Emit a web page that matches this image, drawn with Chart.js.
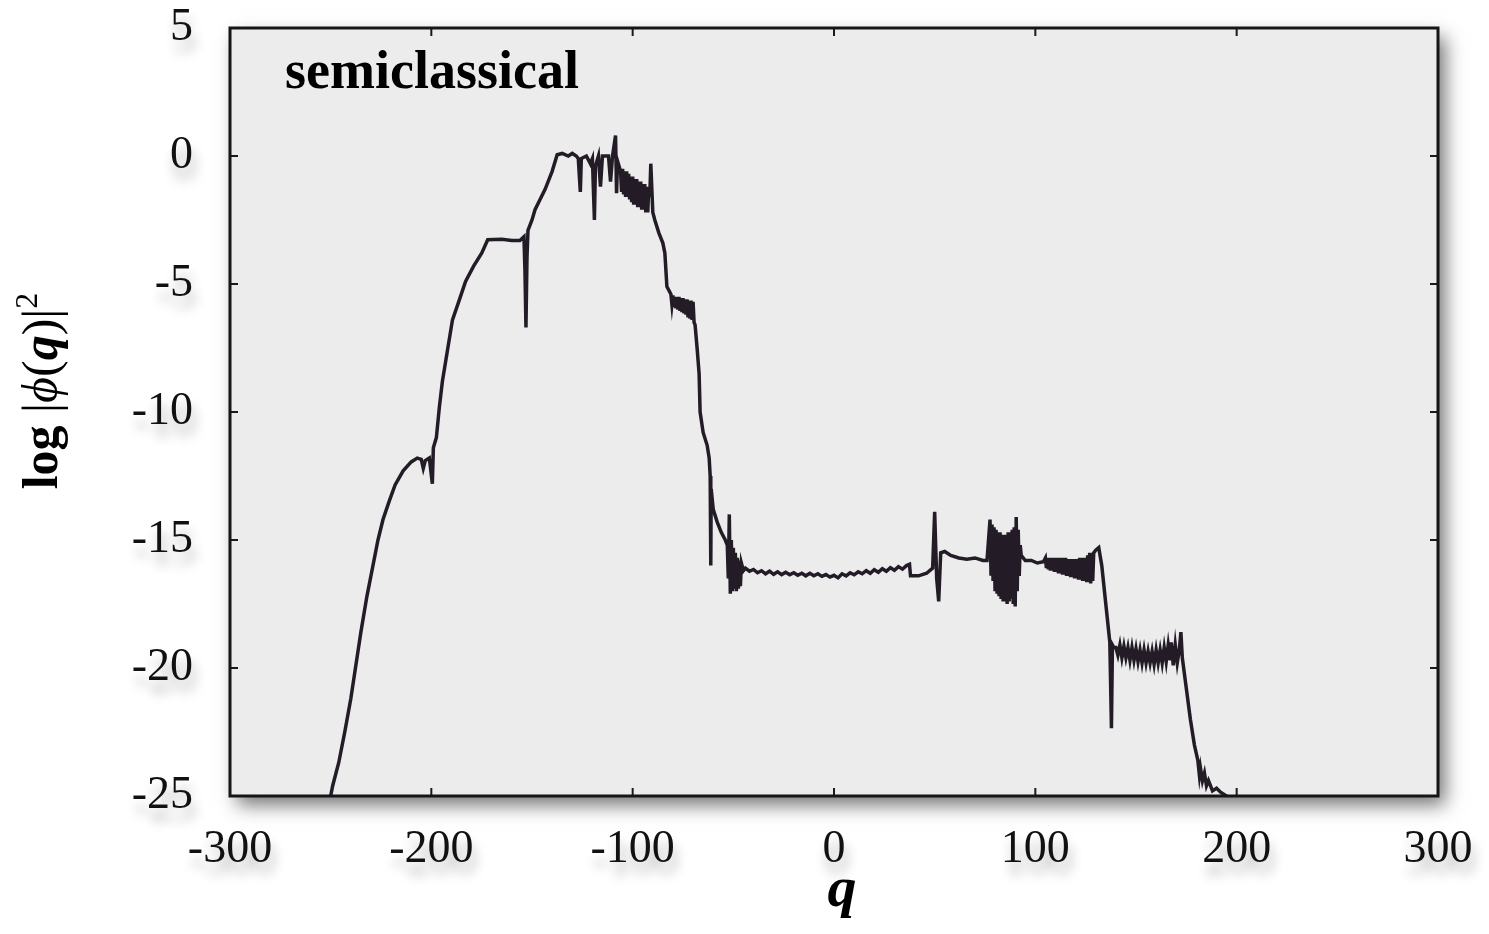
<!DOCTYPE html>
<html>
<head>
<meta charset="utf-8">
<script src="https://cdn.jsdelivr.net/npm/chart.js@4.4.0/dist/chart.umd.min.js"></script>
<style>
html, body { margin: 0; padding: 0; background: #fff; }
#wrap { width: 1489px; height: 934px; }
</style>
</head>
<body>
<div id="wrap"><canvas id="phiChart" width="1489" height="934"></canvas></div>
<script>
// q positions and log|phi(q)|^2 (same line layout in both arrays)
const qValues = [
    -250.5, -249, -246, -243, -240, -237.5, -235, -232, -229, -226.5, -224, -221, -218, -214, -210, -207, -205, -204, -203, -201,
    -199.5, -199, -197.5, -196, -194.5, -192, -189.5, -186, -183, -179, -175, -172, -165, -160, -156, -154, -153.5, -153, -152.5, -152,
    -150, -148.5, -146, -143.5, -140, -137.5, -135, -132, -130, -128, -127, -126, -125.5, -123, -121, -120, -119, -118.5, -117, -116,
    -115, -112, -111, -110, -108.5, -108, -107.5,
    -106, -105.5, -105, -104.5, -104, -103.5, -103, -102.5, -102, -101.5, -101, -100.5, -100, -99.5, -99, -98.5, -98, -97.5, -97, -96.5, -96, -95.5, -95, -94.5, -94, -93.5, -93, -92.5, -92, -91.5,
    -91, -90, -89, -87, -85, -84, -83,
    -81, -80.5, -80, -79.5, -79, -78.5, -78, -77.5, -77, -76.5, -76, -75.5, -75, -74.5, -74, -73.5, -73, -72.5, -72, -71.5, -71, -70.5, -70, -69.5,
    -69, -68, -67, -66.5, -65, -63, -62, -61.5, -61.2, -61, -60, -58, -56, -54,
    -53, -52.5, -52, -51.5, -51, -50.5, -50, -49.5, -49, -48.5, -48, -47.5, -47, -46.5, -46, -45,
    -44, -42, -40, -38, -36, -34, -32, -30, -28, -26, -24, -22, -20, -18, -16, -14, -12, -10, -8, -6, -4, -2,
    0, 2, 4, 6, 8, 10, 12, 14, 16, 18, 20, 22, 24, 26, 28, 30, 32, 34, 36, 37.5, 38,
    42, 46, 49, 50, 51, 52, 53, 55, 58, 62, 66, 70, 74, 76,
    77.5, 78, 78.5, 79, 79.5, 80, 80.5, 81, 81.5, 82, 82.5, 83, 83.5, 84, 84.5, 85, 85.5, 86, 86.5, 87, 87.5, 88, 88.5, 89, 89.5, 90, 90.5, 91, 91.5, 92, 92.5, 93,
    95, 98, 101, 104,
    105, 105.5, 106, 106.5, 107, 107.5, 108, 108.5, 109, 109.5, 110, 110.5, 111, 111.5, 112, 112.5, 113, 113.5, 114, 114.5, 115, 115.5, 116, 116.5,
    117, 117.5, 118, 118.5, 119, 119.5, 120, 120.5, 121, 121.5, 122, 122.5, 123, 123.5, 124, 124.5, 125, 125.5, 126, 126.5, 127, 127.5, 128, 128.5, 129,
    130, 131.5, 133, 135, 137, 137.8, 138.3, 139,
    140, 141, 142, 143, 144, 145, 146, 147, 148, 149, 150, 151, 152, 153, 154, 155, 156, 157, 158, 159, 160, 161, 162, 163, 164, 165, 166, 167, 167.5, 168.5, 169.5, 170.5, 171.5, 172.3, 173,
    175, 177, 179, 180.7, 181.5, 182, 183, 184, 185, 186, 188, 190, 192, 195, 198
];
const logPhi = [
    -25.2, -24.6, -23.7, -22.5, -21.2, -19.9, -18.6, -17.2, -16.0, -15.0, -14.2, -13.5, -12.85, -12.3, -11.95, -11.8, -11.85, -12.2, -11.9, -11.8,
    -12.8, -11.4, -11.0, -9.8, -8.8, -7.6, -6.4, -5.6, -4.9, -4.3, -3.8, -3.27, -3.25, -3.3, -3.3, -3.15, -4.5, -6.7, -4.0, -2.9,
    -2.5, -2.1, -1.7, -1.3, -0.6, 0.05, 0.1, 0.0, 0.1, 0.0, -0.1, -1.4, -0.1, 0.0, -0.3, -0.1, -2.5, -0.4, 0.0, -1.2,
    0.0, 0.0, -1.0, 0.0, 0.8, -1.45, -0.2,
    -0.6, -1.4, -0.5, -1.5, -0.6, -1.6, -0.6, -1.6, -0.7, -1.7, -0.8, -1.8, -0.8, -1.9, -0.9, -1.9, -0.9, -2.0, -1.0, -2.0, -1.0, -2.1, -1.1, -2.1, -1.1, -2.2, -1.2, -2.2, -1.2, -1.6,
    -0.3, -2.2, -2.5, -3.0, -3.4, -3.8, -5.1,
    -5.4, -5.8, -5.45, -5.9, -5.5, -5.95, -5.5, -6.0, -5.5, -6.05, -5.55, -6.1, -5.55, -6.15, -5.6, -6.2, -5.6, -6.3, -5.65, -6.35, -5.65, -6.4, -5.7, -6.5,
    -6.6, -7.5, -8.5, -10.0, -10.8, -11.3, -11.8, -12.5, -16.0, -13.0, -13.8, -14.3, -14.7, -15.0,
    -15.2, -16.5, -14.0, -17.1, -15.0, -17.0, -15.3, -16.9, -15.5, -17.0, -15.7, -16.9, -15.8, -16.8, -15.9, -16.2,
    -16.1, -16.22, -16.15, -16.28, -16.2, -16.32, -16.22, -16.34, -16.24, -16.35, -16.26, -16.36, -16.28, -16.38, -16.3, -16.4, -16.3, -16.4, -16.32, -16.42, -16.35, -16.45,
    -16.38, -16.48, -16.32, -16.4, -16.28, -16.36, -16.24, -16.32, -16.2, -16.3, -16.16, -16.26, -16.12, -16.22, -16.08, -16.18, -16.04, -16.14, -16.0, -15.95, -16.4,
    -16.4, -16.3, -16.1, -13.9, -16.5, -17.4, -15.5, -15.45, -15.6, -15.7, -15.75, -15.7, -15.8, -15.8,
    -14.2, -16.4, -14.4, -16.6, -14.5, -17.0, -14.6, -17.1, -14.7, -17.2, -14.7, -17.3, -14.8, -17.4, -14.8, -17.4, -14.8, -17.5, -14.7, -17.4, -14.7, -17.3, -14.6, -17.5, -14.5, -17.6, -14.1, -17.0, -14.6, -16.4, -15.2, -15.6,
    -15.8, -15.8, -15.9, -15.85,
    -15.7, -16.1, -15.7, -16.15, -15.7, -16.2, -15.7, -16.2, -15.7, -16.25, -15.7, -16.25, -15.7, -16.3, -15.7, -16.3, -15.7, -16.35, -15.7, -16.35, -15.7, -16.4, -15.75, -16.4,
    -15.75, -16.45, -15.75, -16.45, -15.75, -16.5, -15.75, -16.5, -15.75, -16.55, -15.7, -16.55, -15.7, -16.6, -15.7, -16.6, -15.7, -16.65, -15.6, -16.65, -15.5, -16.7, -15.5, -16.6, -15.5,
    -15.4, -15.3, -16.0, -17.5, -19.0, -22.35, -19.1, -19.2,
    -19.2, -19.5, -19.1, -19.6, -19.15, -19.6, -19.2, -19.7, -19.2, -19.7, -19.25, -19.75, -19.3, -19.8, -19.3, -19.8, -19.35, -19.8, -19.35, -19.85, -19.3, -19.8, -19.3, -19.8, -19.2, -19.75, -19.1, -19.7, -19.0, -19.9, -19.1, -19.8, -19.3, -18.6, -19.6,
    -20.8, -22.0, -23.0, -23.6, -24.2, -23.9, -24.4, -24.1, -24.6, -24.4, -24.8, -24.7, -24.85, -25.0, -25.3
];
const xTicks = [-300, -200, -100, 0, 100, 200, 300];
const yTicks = [5, 0, -5, -10, -15, -20, -25];
const panelLabel = 'semiclassical';

const serif = "'Liberation Serif', 'DejaVu Serif', serif";
const ink = '#231c27';

// frame, inward tick marks, shadows and titles
const framePlugin = {
    id: 'frame',
    beforeDraw(chart) {
        const ctx = chart.ctx;
        const a = chart.chartArea;
        ctx.save();
        ctx.fillStyle = '#ffffff';
        ctx.fillRect(0, 0, chart.width, chart.height);
        ctx.shadowColor = 'rgba(0,0,0,0.55)';
        ctx.shadowBlur = 18;
        ctx.shadowOffsetX = 7;
        ctx.shadowOffsetY = 9;
        ctx.fillStyle = '#ececec';
        ctx.fillRect(a.left, a.top, a.right - a.left, a.bottom - a.top);
        ctx.restore();
        // soft shadow under tick labels
        ctx.shadowColor = 'rgba(0,0,0,0.3)';
        ctx.shadowBlur = 12;
        ctx.shadowOffsetX = 3;
        ctx.shadowOffsetY = 12;
    },
    beforeDatasetsDraw(chart) {
        const ctx = chart.ctx;
        ctx.shadowColor = 'rgba(0,0,0,0)';
        ctx.shadowBlur = 0;
        ctx.shadowOffsetX = 0;
        ctx.shadowOffsetY = 0;
    },
    afterDatasetsDraw(chart) {
        const ctx = chart.ctx;
        const a = chart.chartArea;
        const xs = chart.scales.x;
        const ys = chart.scales.y;
        ctx.save();
        ctx.strokeStyle = '#1a1a1a';
        ctx.lineWidth = 2;
        const len = 8;
        ctx.beginPath();
        xTicks.slice(1, -1).forEach(v => {
            const px = xs.getPixelForValue(v);
            ctx.moveTo(px, a.bottom); ctx.lineTo(px, a.bottom - len);
            ctx.moveTo(px, a.top); ctx.lineTo(px, a.top + len);
        });
        yTicks.slice(1, -1).forEach(v => {
            const py = ys.getPixelForValue(v);
            ctx.moveTo(a.left, py); ctx.lineTo(a.left + len, py);
            ctx.moveTo(a.right, py); ctx.lineTo(a.right - len, py);
        });
        ctx.stroke();
        ctx.lineWidth = 3;
        ctx.strokeStyle = '#151515';
        ctx.strokeRect(a.left, a.top, a.right - a.left, a.bottom - a.top);

        // panel label
        ctx.fillStyle = '#000';
        ctx.font = 'bold 54px ' + serif;
        ctx.textBaseline = 'alphabetic';
        ctx.textAlign = 'left';
        ctx.fillText(panelLabel, a.left + 55, a.top + 60);

        // x title
        ctx.font = 'bold italic 58px ' + serif;
        ctx.textAlign = 'center';
        ctx.fillText('q', (a.left + a.right) / 2 + 8, 906);

        // y title, mixed fonts
        const parts = [
            ['log', 'bold 50px ' + serif, 0],
            [' |', '50px ' + serif, 0],
            ['\u03d5', 'italic 50px ' + serif, 0],
            ['(', '50px ' + serif, 0],
            ['q', 'bold italic 50px ' + serif, 0],
            [')|', '50px ' + serif, 0],
            ['2', '32px ' + serif, -20]
        ];
        let total = 0;
        parts.forEach(p => { ctx.font = p[1]; total += ctx.measureText(p[0]).width; });
        ctx.translate(57, 391);
        ctx.rotate(-Math.PI / 2);
        ctx.textAlign = 'left';
        let x = -total / 2;
        parts.forEach(p => {
            ctx.font = p[1];
            ctx.fillText(p[0], x, p[2]);
            x += ctx.measureText(p[0]).width;
        });
        ctx.restore();
    }
};

function noLabelPadding(s) {
    s.paddingTop = 0;
    s.paddingBottom = 0;
    s.paddingLeft = 0;
    s.paddingRight = 0;
}

const ctx = document.getElementById('phiChart').getContext('2d');
new Chart(ctx, {
    type: 'line',
    data: {
        labels: qValues,
        datasets: [{
            data: qValues.map((q, i) => ({ x: q, y: logPhi[i] })),
            borderColor: ink,
            borderWidth: 3.5,
            pointRadius: 0,
            tension: 0,
            fill: false
        }]
    },
    options: {
        responsive: false,
        animation: false,
        layout: { padding: { top: 28, right: 51, left: 0, bottom: 0 } },
        plugins: {
            legend: { display: false },
            tooltip: { enabled: false }
        },
        scales: {
            x: {
                type: 'linear',
                min: -300,
                max: 300,
                afterBuildTicks: s => { s.ticks = xTicks.map(v => ({ value: v })); },
                afterFit: s => { s.height = 138; noLabelPadding(s); },
                grid: { display: false, drawTicks: false },
                border: { display: false },
                ticks: {
                    padding: 26,
                    color: '#111',
                    font: { family: serif, size: 46 },
                    maxRotation: 0,
                    autoSkip: false
                }
            },
            y: {
                type: 'linear',
                min: -25,
                max: 5,
                afterBuildTicks: s => { s.ticks = yTicks.map(v => ({ value: v })); },
                afterFit: s => { s.width = 230; noLabelPadding(s); },
                grid: { display: false, drawTicks: false },
                border: { display: false },
                ticks: {
                    padding: 37,
                    color: '#111',
                    font: { family: serif, size: 46 },
                    autoSkip: false
                }
            }
        }
    },
    plugins: [framePlugin]
});
</script>
</body>
</html>
